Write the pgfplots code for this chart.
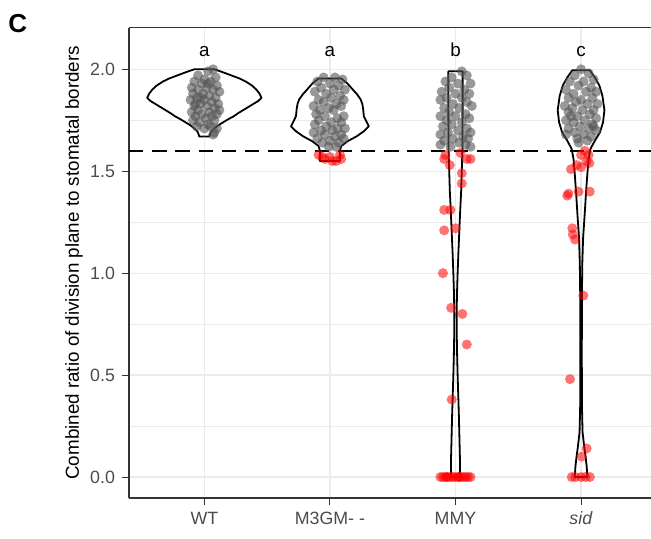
\documentclass[border=0pt]{standalone}
\usepackage{fontspec}
\setmainfont{Liberation Sans}
\usepackage{pgfplots}
\usepackage{pgfplotstable}
\pgfplotsset{compat=1.18}

\definecolor{ptgray}{RGB}{85,85,85}
\definecolor{ptred}{RGB}{255,0,0}
\pgfplotsset{
  graypt/.style={only marks, mark=*, mark size=2.5pt, color=ptgray, mark options={draw opacity=0, fill=ptgray, fill opacity=0.6}},
  redpt/.style={only marks, mark=*, mark size=2.5pt, color=ptred, mark options={draw opacity=0, fill=ptred, fill opacity=0.55}},
  violin/.style={black, line width=0.9pt, line join=round},
}

% violin outlines: y, half-width
\pgfplotstableread{
y w
2.000 0
2.000 0.08
1.985 0.15
1.970 0.215
1.955 0.28
1.940 0.33
1.920 0.38
1.900 0.415
1.880 0.44
1.860 0.455
1.845 0.43
1.830 0.39
1.815 0.35
1.800 0.31
1.785 0.27
1.770 0.235
1.755 0.19
1.740 0.15
1.725 0.11
1.710 0.08
1.695 0.055
1.680 0.045
1.670 0.04
1.670 0
}\vWT
\pgfplotstableread{
y w
1.955 0
1.955 0.09
1.930 0.14
1.902 0.18
1.878 0.215
1.853 0.244
1.830 0.258
1.804 0.265
1.770 0.27
1.745 0.29
1.720 0.31
1.696 0.27
1.672 0.215
1.647 0.14
1.623 0.09
1.598 0.078
1.575 0.08
1.550 0.08
1.550 0
}\vMG
\pgfplotstableread{
y w
1.990 0
1.990 0.057
1.800 0.057
1.600 0.055
1.500 0.050
1.400 0.045
1.300 0.037
1.200 0.030
1.100 0.023
1.000 0.017
0.900 0.012
0.800 0.009
0.700 0.010
0.600 0.013
0.500 0.017
0.400 0.022
0.300 0.027
0.200 0.031
0.100 0.035
0.000 0.037
0.000 0
}\vMMY
\pgfplotstableread{
y w
1.995 0
1.995 0.07
1.960 0.11
1.920 0.146
1.870 0.17
1.800 0.186
1.740 0.175
1.690 0.15
1.650 0.11
1.610 0.075
1.560 0.06
1.510 0.053
1.400 0.04
1.300 0.03
1.170 0.016
1.050 0.01
0.900 0.007
0.600 0.006
0.350 0.007
0.220 0.012
0.150 0.025
0.100 0.036
0.050 0.045
0.000 0.05
0.000 0
}\vSID

% points: jitter offset, value
\pgfplotstableread{
off y
0.07 2.00
0.03 1.99
-0.05 1.97
0.09 1.96
0.00 1.95
-0.08 1.94
0.05 1.94
-0.02 1.93
0.10 1.92
-0.10 1.91
0.02 1.91
-0.05 1.90
0.07 1.90
0.12 1.89
-0.01 1.88
-0.09 1.88
0.04 1.87
-0.06 1.86
0.09 1.86
0.00 1.85
-0.11 1.85
0.06 1.84
-0.03 1.83
0.11 1.83
-0.08 1.82
0.02 1.82
0.08 1.81
-0.05 1.80
-0.10 1.79
0.04 1.79
0.10 1.78
-0.02 1.78
-0.07 1.77
0.06 1.77
0.01 1.76
-0.09 1.75
0.08 1.75
-0.04 1.74
0.03 1.73
-0.06 1.72
0.05 1.72
0.10 1.71
0.00 1.71
0.08 1.69
0.07 1.68
-0.03 1.86
0.03 1.93
-0.07 1.83
0.12 1.80
}\pWT
\pgfplotstableread{
off y
-0.05 1.96
0.04 1.96
0.10 1.95
-0.10 1.94
0.00 1.93
0.07 1.92
-0.07 1.91
0.12 1.90
0.03 1.90
-0.12 1.89
-0.03 1.88
0.08 1.87
0.01 1.86
-0.09 1.85
0.11 1.85
-0.05 1.84
0.05 1.83
-0.13 1.82
0.09 1.82
-0.01 1.81
-0.08 1.80
0.03 1.80
-0.11 1.78
0.11 1.77
-0.04 1.77
0.06 1.76
-0.09 1.75
0.01 1.74
0.09 1.74
-0.12 1.73
-0.03 1.72
0.06 1.71
0.12 1.71
-0.07 1.70
0.02 1.70
-0.13 1.69
0.09 1.68
-0.04 1.68
0.04 1.67
-0.10 1.66
0.11 1.66
0.00 1.65
-0.06 1.64
0.07 1.64
-0.01 1.62
0.05 1.62
}\pMGg
\pgfplotstableread{
off y
-0.09 1.58
-0.04 1.56
0.00 1.57
0.05 1.55
0.09 1.56
0.02 1.55
-0.06 1.57
0.08 1.58
}\pMGr
\pgfplotstableread{
off y
0.05 1.99
0.09 1.97
-0.03 1.96
-0.08 1.94
0.12 1.93
0.02 1.93
-0.05 1.91
0.07 1.90
-0.11 1.89
0.11 1.88
0.00 1.88
-0.07 1.86
0.05 1.86
-0.12 1.85
0.09 1.84
-0.02 1.83
0.13 1.82
-0.09 1.81
0.03 1.81
-0.05 1.79
0.08 1.78
-0.12 1.77
0.00 1.77
0.11 1.76
-0.07 1.75
0.05 1.74
-0.03 1.73
-0.10 1.72
0.09 1.71
0.02 1.70
-0.06 1.69
0.12 1.69
-0.12 1.68
0.06 1.67
-0.02 1.66
0.10 1.66
-0.09 1.65
0.03 1.64
-0.12 1.63
0.08 1.63
-0.04 1.62
0.12 1.62
}\pMMYg
\pgfplotstableread{
off y
-0.08 1.58
0.04 1.59
-0.09 1.56
0.09 1.56
0.12 1.56
-0.045 1.53
0.05 1.49
0.05 1.44
-0.09 1.31
-0.04 1.31
-0.09 1.21
0.00 1.22
-0.10 1.00
-0.035 0.83
0.055 0.80
0.09 0.65
-0.03 0.38
-0.12 0
-0.10 0
-0.08 0
-0.06 0
-0.04 0
-0.02 0
0.00 0
0.02 0
0.04 0
0.06 0
0.08 0
0.10 0
0.12 0
-0.07 0
0.03 0
}\pMMYr
\pgfplotstableread{
off y
0.00 2.00
0.06 1.98
-0.05 1.97
0.10 1.95
-0.09 1.94
0.02 1.94
-0.02 1.92
0.08 1.91
-0.12 1.90
0.12 1.89
0.04 1.89
-0.06 1.88
-0.10 1.86
0.09 1.86
0.00 1.85
-0.04 1.84
0.13 1.83
0.05 1.83
-0.13 1.82
-0.07 1.81
0.10 1.80
0.01 1.80
-0.10 1.79
0.07 1.78
-0.03 1.77
0.12 1.76
-0.12 1.75
0.03 1.75
-0.06 1.74
0.09 1.73
-0.01 1.72
-0.10 1.71
0.06 1.71
0.12 1.70
-0.05 1.69
0.02 1.68
-0.12 1.68
0.08 1.67
-0.03 1.66
0.05 1.65
-0.02 1.64
0.10 1.72
-0.08 1.77
}\pSIDg
\pgfplotstableread{
off y
0.03 1.60
0.00 1.58
0.06 1.58
-0.035 1.53
0.045 1.55
0.066 1.54
-0.08 1.51
0.00 1.52
-0.10 1.39
-0.11 1.38
-0.02 1.40
0.07 1.40
-0.07 1.22
-0.066 1.19
-0.048 1.165
0.018 0.89
-0.088 0.48
0.045 0.14
0.005 0.10
-0.074 0
-0.045 0
0.00 0
0.035 0
0.07 0
}\pSIDr

\begin{document}
\begin{tikzpicture}
\begin{axis}[
  at={(0,0)}, anchor=south west,
  scale only axis, width=261pt, height=235.25pt,
  xmin=-0.6, xmax=3.557, ymin=-0.103, ymax=2.205,
  axis x line=box, axis y line=left,
  every outer x axis line/.append style={-},
  every outer y axis line/.append style={-},
  every inner x axis line/.append style={-},
  every inner y axis line/.append style={-},
  axis line style={-, draw=black!80, line width=0.6pt},
  xtick={0,1,2,3},
  xticklabels={WT, M3GM- -, MMY, \textit{sid}},
  ytick={0,0.5,1,1.5,2},
  minor ytick={0.25,0.75,1.25,1.75},
  minor tick length=0pt,
  major tick length=3.5pt,
  tick align=outside,
  xtick pos=left, ytick pos=left,
  tick style={draw=black!80, line width=0.5pt},
  /pgf/number format/assume math mode=true,
  yticklabel style={/pgf/number format/fixed, /pgf/number format/fixed zerofill, /pgf/number format/precision=1},
  ticklabel style={font=\fontsize{8.9}{10}\selectfont, text=black!70},
  grid=both,
  major grid style={draw=black!8, line width=0.6pt},
  minor grid style={draw=black!8, line width=0.35pt},
  clip=true,
]
% points
\addplot[graypt] table[x expr=\thisrow{off}+0, y=y] {\pWT};
\addplot[graypt] table[x expr=\thisrow{off}+1, y=y] {\pMGg};
\addplot[redpt] table[x expr=\thisrow{off}+1, y=y] {\pMGr};
\addplot[graypt] table[x expr=\thisrow{off}+2, y=y] {\pMMYg};
\addplot[redpt] table[x expr=\thisrow{off}+2, y=y] {\pMMYr};
\addplot[graypt] table[x expr=\thisrow{off}+3, y=y] {\pSIDg};
\addplot[redpt] table[x expr=\thisrow{off}+3, y=y] {\pSIDr};
% violins
\addplot[violin] table[x expr=0+\thisrow{w}, y=y] {\vWT};
\addplot[violin] table[x expr=0-\thisrow{w}, y=y] {\vWT};
\addplot[violin] table[x expr=1+\thisrow{w}, y=y] {\vMG};
\addplot[violin] table[x expr=1-\thisrow{w}, y=y] {\vMG};
\addplot[violin] table[x expr=2+\thisrow{w}, y=y] {\vMMY};
\addplot[violin] table[x expr=2-\thisrow{w}, y=y] {\vMMY};
\addplot[violin] table[x expr=3+\thisrow{w}, y=y] {\vSID};
\addplot[violin] table[x expr=3-\thisrow{w}, y=y] {\vSID};
% threshold
\addplot[black, line width=1.2pt, dash pattern=on 7.2pt off 4.4pt] coordinates {(-0.6,1.6) (3.557,1.6)};
% group letters
\node[anchor=base, font=\fontsize{9.4}{11}\selectfont] at (axis cs:0,2.065) {a};
\node[anchor=base, font=\fontsize{9.4}{11}\selectfont] at (axis cs:1,2.065) {a};
\node[anchor=base, font=\fontsize{9.4}{11}\selectfont] at (axis cs:2,2.065) {b};
\node[anchor=base, font=\fontsize{9.4}{11}\selectfont] at (axis cs:3,2.065) {c};
\end{axis}
\node[rotate=90, anchor=center, font=\fontsize{9.4}{11}\selectfont] at (-27.5pt,117.6pt) {Combined ratio of division plane to stomatal borders};
\node[inner sep=0pt, anchor=center, font=\fontsize{13}{15}\selectfont\bfseries] at (-55.6pt,237.4pt) {C};
\pgfresetboundingbox
\path[use as bounding box] (-64.5pt,-20pt) rectangle (261pt,249pt);
\end{tikzpicture}
\end{document}
